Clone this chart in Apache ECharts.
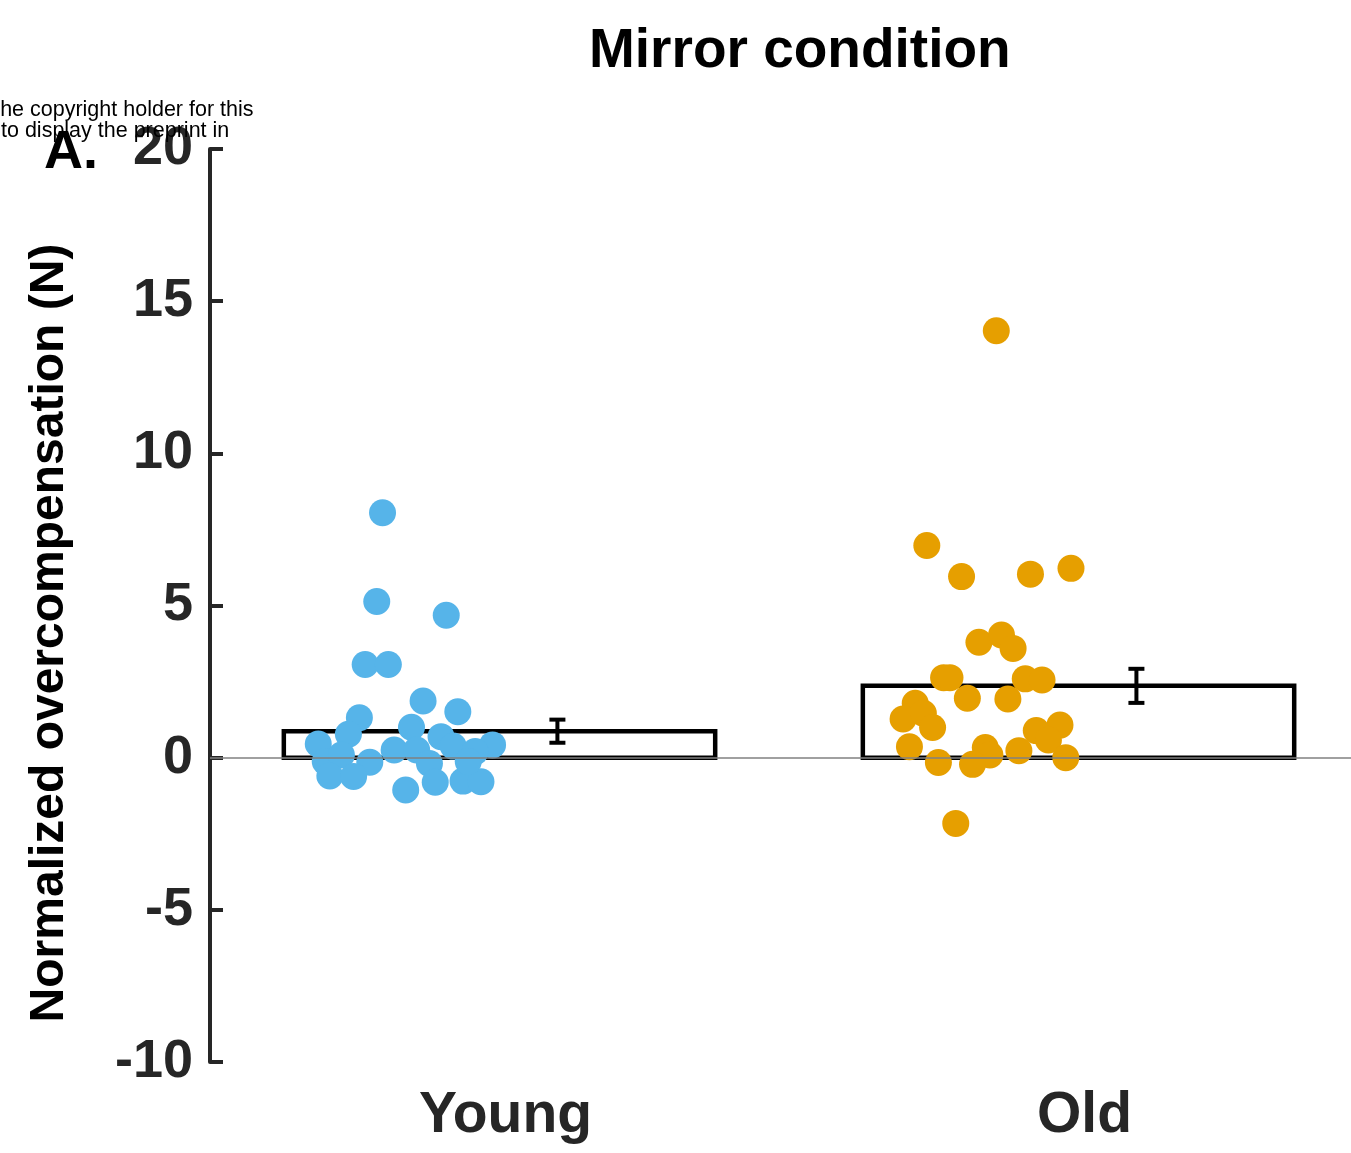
<!DOCTYPE html>
<html>
<head>
<meta charset="utf-8">
<title>Mirror condition</title>
<script src="https://cdn.jsdelivr.net/npm/echarts@6/dist/echarts.min.js"></script>
<style>
  html, body { margin: 0; padding: 0; background: #fff; }
  #chart { width: 1351px; height: 1153px; }
</style>
</head>
<body>
<div id="chart"></div>
<script>
// Groups and their positions on the x scale
const groups = ['Young', 'Old'];
const groupPos = [1, 2];

// Group means and standard errors (N)
const means = [0.87, 2.36];
const sems = [0.38, 0.56];

// Individual participants: jittered x position and overcompensation value
const youngX = [0.798, 0.788, 0.908, 0.768, 0.808, 0.868, 0.928, 0.758, 0.739, 0.848,
                0.687, 0.899, 0.920, 0.988, 0.958, 0.818, 0.857, 0.699, 0.727, 0.776,
                0.879, 0.707, 0.748, 0.889, 0.937, 0.968, 0.838, 0.946];
const youngY = [8.05, 5.13, 4.68, 3.06, 3.06, 1.86, 1.51, 1.31, 0.77, 1.00,
                0.45, 0.69, 0.38, 0.42, 0.20, 0.25, 0.25, -0.13, 0.09, -0.15,
                -0.19, -0.60, -0.62, -0.81, -0.77, -0.79, -1.06, -0.13];
const oldX = [1.738, 1.798, 1.917, 1.987, 1.828, 1.867, 1.887, 1.767, 1.778, 1.908,
              1.937, 1.808, 1.878, 1.718, 1.697, 1.732, 1.748, 1.968, 1.927, 1.948,
              1.708, 1.839, 1.847, 1.897, 1.758, 1.817, 1.978, 1.788, 1.858];
const oldY = [6.97, 5.95, 6.03, 6.22, 3.79, 4.03, 3.59, 2.63, 2.63, 2.59,
              2.55, 1.95, 1.93, 1.79, 1.27, 1.46, 0.99, 1.07, 0.89, 0.58,
              0.36, 0.33, 0.09, 0.23, -0.16, -0.22, 0.00, -2.16, 14.03];

// Y axis range and tick step
const yMin = -10, yMax = 20, yStep = 5;

const FONT = '"Liberation Sans", Arial, Helvetica, sans-serif';
const INK = '#262626';
const BAR_HALF = 0.3725;   // half bar width in x units
const ERR_SHIFT = 0.1;     // error bar sits to the right of group centre
const CAP_PX = 8;          // half cap width in pixels

const zip = (xs, ys) => xs.map((x, i) => [x, ys[i]]);

const chart = echarts.init(document.getElementById('chart'), null, { renderer: 'canvas' });

const option = {
  backgroundColor: '#ffffff',
  animation: false,
  title: {
    text: 'Mirror condition',
    left: 584,
    top: 19,
    textStyle: { fontFamily: FONT, fontSize: 55, fontWeight: 'bold', color: '#000' }
  },
  grid: { left: 210, right: 0, top: 149, bottom: 91 },
  xAxis: {
    type: 'value',
    min: 0.5,
    max: 2.4706,
    axisLine: { show: false },
    axisTick: { show: false },
    splitLine: { show: false },
    axisLabel: {
      customValues: groupPos,
      formatter: v => groups[groupPos.indexOf(v)] || '',
      margin: 26,
      padding: [0, 0, 0, 12],
      fontFamily: FONT,
      fontSize: 57,
      fontWeight: 'bold',
      color: INK
    }
  },
  yAxis: {
    type: 'value',
    min: yMin,
    max: yMax,
    interval: yStep,
    axisLine: { show: true, lineStyle: { color: INK, width: 4 } },
    axisTick: { show: true, inside: true, length: 13, lineStyle: { color: INK, width: 4 } },
    splitLine: { show: false },
    axisLabel: {
      margin: 17,
      fontFamily: FONT,
      fontSize: 54,
      fontWeight: 'bold',
      color: INK
    }
  },
  graphic: [
    {
      type: 'text',
      left: -13, top: 99,
      style: { text: 'The copyright holder for this', fontFamily: FONT, fontSize: 21.5, fill: '#000' },
      z: 1
    },
    {
      type: 'text',
      left: 1, top: 120,
      style: { text: 'to display the preprint in', fontFamily: FONT, fontSize: 21.5, fill: '#000' },
      z: 1
    },
    {
      type: 'text',
      left: 44, top: 126,
      style: { text: 'A.', fontFamily: FONT, fontSize: 54, fontWeight: 'bold', fill: '#000' },
      z: 2
    },
    {
      type: 'text',
      x: 50, y: 633,
      rotation: Math.PI / 2,
      style: {
        text: 'Normalized overcompensation (N)',
        fontFamily: FONT, fontSize: 48, fontWeight: 'bold', fill: '#000',
        align: 'center', verticalAlign: 'middle'
      }
    }
  ],
  series: [
    {
      // zero reference line
      type: 'line',
      data: [],
      z: 1,
      markLine: {
        silent: true,
        symbol: 'none',
        label: { show: false },
        lineStyle: { color: '#808080', width: 1.5, type: 'solid' },
        data: [{ yAxis: 0 }]
      }
    },
    {
      // mean bars, outline only
      type: 'custom',
      z: 2,
      data: zip(groupPos, means),
      renderItem: (params, api) => {
        const x = api.value(0), m = api.value(1);
        const a = api.coord([x - BAR_HALF, 0]);
        const b = api.coord([x + BAR_HALF, m]);
        return {
          type: 'rect',
          shape: { x: a[0], y: Math.min(a[1], b[1]), width: b[0] - a[0], height: Math.abs(a[1] - b[1]) },
          style: { fill: 'none', stroke: '#000', lineWidth: 4.5 }
        };
      }
    },
    {
      type: 'scatter',
      name: 'Young',
      z: 3,
      symbol: 'circle',
      symbolSize: 27,
      itemStyle: { color: '#56B4E9', opacity: 1 },
      data: zip(youngX, youngY)
    },
    {
      type: 'scatter',
      name: 'Old',
      z: 3,
      symbol: 'circle',
      symbolSize: 27,
      itemStyle: { color: '#E69F00', opacity: 1 },
      data: zip(oldX, oldY)
    },
    {
      // standard error bars
      type: 'custom',
      z: 4,
      data: groupPos.map((p, i) => [p, means[i], sems[i]]),
      renderItem: (params, api) => {
        const x = api.value(0) + ERR_SHIFT, m = api.value(1), s = api.value(2);
        const hi = api.coord([x, m + s]);
        const lo = api.coord([x, m - s]);
        const st = { stroke: '#000', lineWidth: 4 };
        return {
          type: 'group',
          children: [
            { type: 'line', shape: { x1: hi[0], y1: hi[1], x2: lo[0], y2: lo[1] }, style: st },
            { type: 'line', shape: { x1: hi[0] - CAP_PX, y1: hi[1], x2: hi[0] + CAP_PX, y2: hi[1] }, style: st },
            { type: 'line', shape: { x1: lo[0] - CAP_PX, y1: lo[1], x2: lo[0] + CAP_PX, y2: lo[1] }, style: st }
          ]
        };
      }
    }
  ]
};

chart.setOption(option);
</script>
</body>
</html>
